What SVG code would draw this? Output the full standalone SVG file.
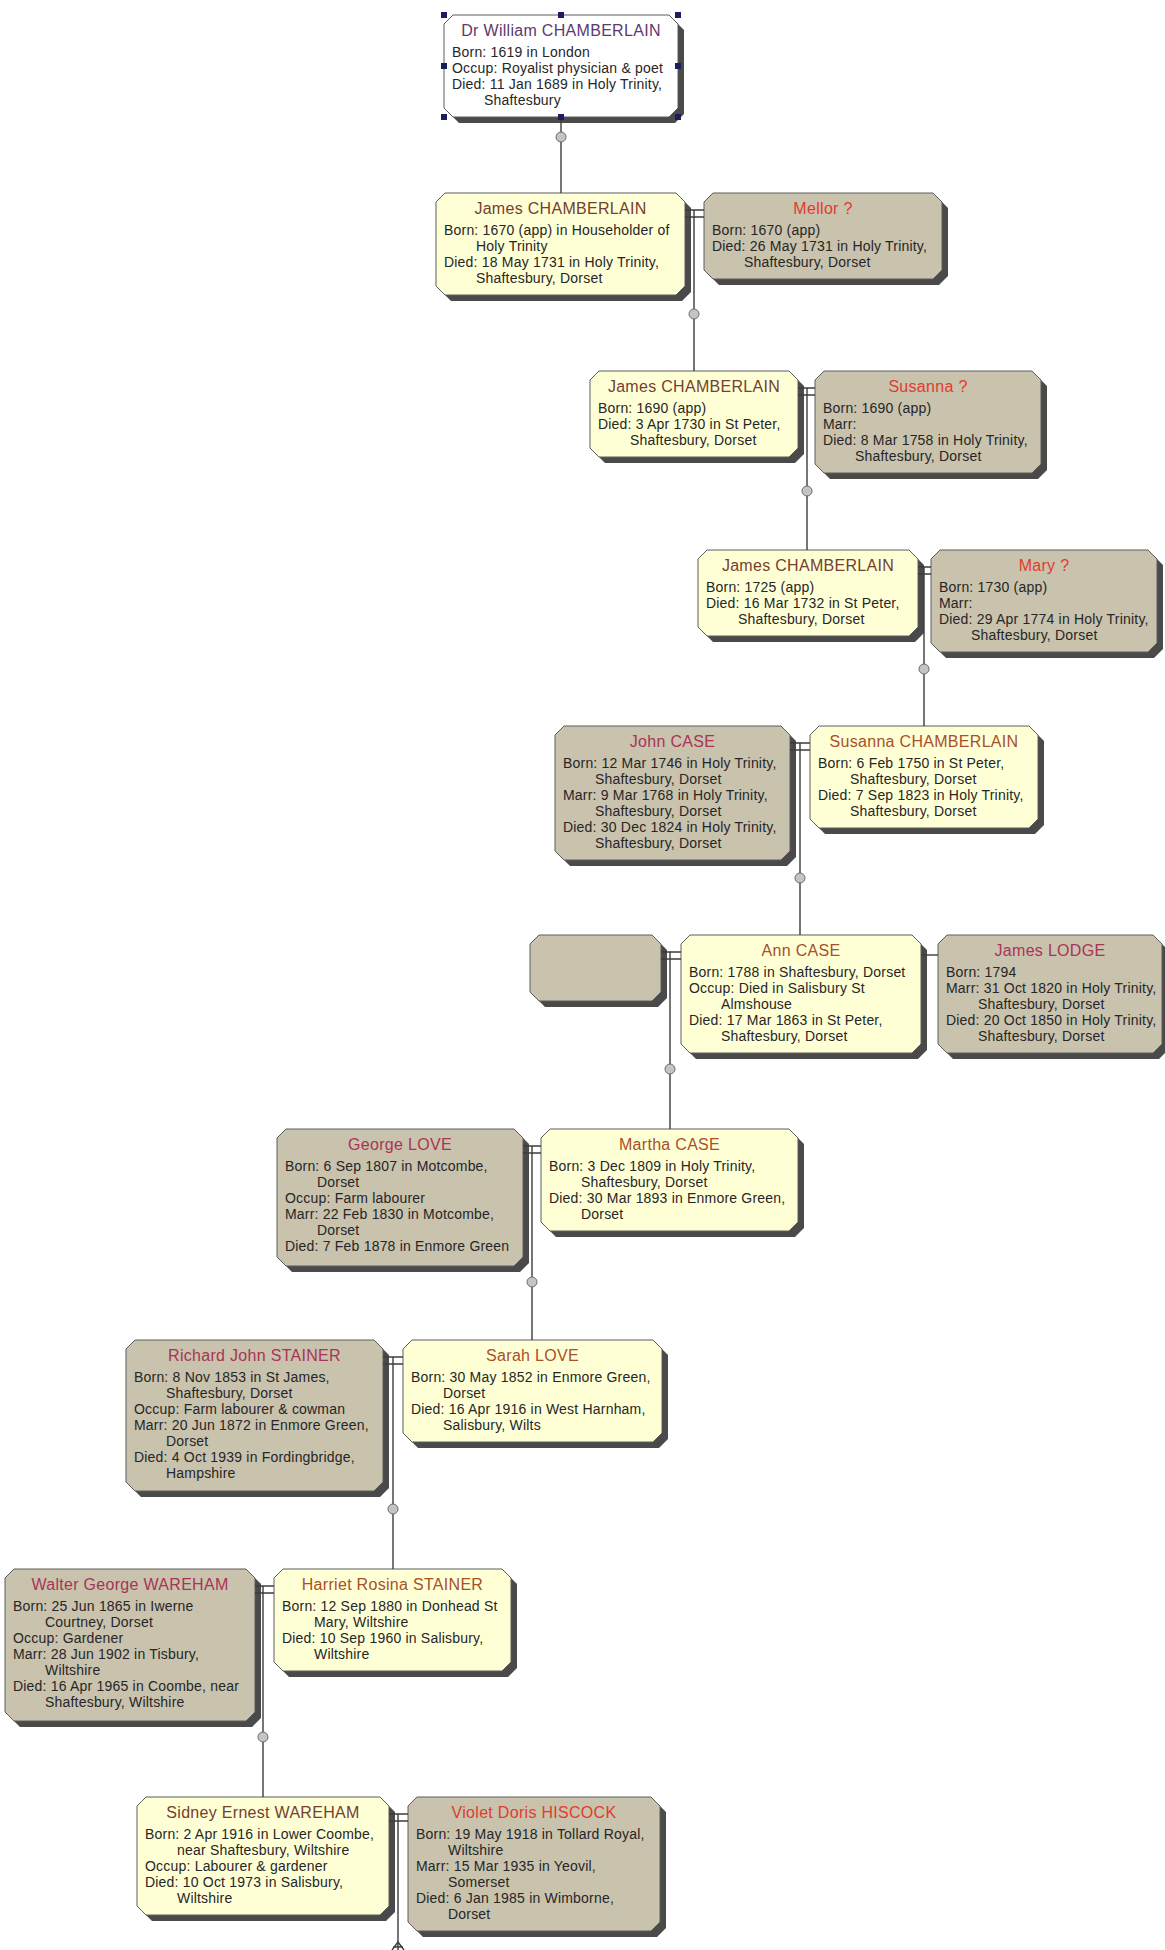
<svg xmlns="http://www.w3.org/2000/svg" width="1165" height="1950" viewBox="0 0 1165 1950">
<style>
.sh{fill:#4a4a4a}
.bx{stroke:#5c5c5c;stroke-width:1}
.w{fill:#ffffff}
.y{fill:#ffffd6}
.g{fill:#c9c2ad}
text{font-family:"Liberation Sans",Arial,sans-serif;font-size:14px;fill:#262626;letter-spacing:0.2px}
.nm{font-size:16px;text-anchor:middle;letter-spacing:0.3px}
.pu{fill:#5c3a6e}
.br{fill:#74402f}
.rd{fill:#e03c2c}
.ro{fill:#a83456}
.or{fill:#a8502a}
.ln{stroke:#3c3c3c;stroke-width:1.4;fill:none}
.kn{fill:#c4c4c4;stroke:#6e6e6e;stroke-width:1}
.hd{fill:#1c1c5e}
</style>
<rect width="1165" height="1950" fill="#ffffff"/>

<g id="n1">
<polygon class="sh" transform="translate(6,6)" points="453,15 669,15 678,24 678,108 669,117 453,117 444,108 444,24"/>
<polygon class="bx w" points="453,15 669,15 678,24 678,108 669,117 453,117 444,108 444,24"/>
<text class="nm pu" x="561" y="36">Dr William CHAMBERLAIN</text>
<text x="452" y="57">Born: 1619 in London</text>
<text x="452" y="73">Occup: Royalist physician &amp; poet</text>
<text x="452" y="89">Died: 11 Jan 1689 in Holy Trinity,</text>
<text x="484" y="105">Shaftesbury</text>
<rect class="hd" x="441" y="12" width="6" height="6"/>
<rect class="hd" x="558" y="12" width="6" height="6"/>
<rect class="hd" x="675" y="12" width="6" height="6"/>
<rect class="hd" x="441" y="63" width="6" height="6"/>
<rect class="hd" x="675" y="63" width="6" height="6"/>
<rect class="hd" x="441" y="114" width="6" height="6"/>
<rect class="hd" x="558" y="114" width="6" height="6"/>
<rect class="hd" x="675" y="114" width="6" height="6"/>
</g>

<g id="n2">
<polygon class="sh" transform="translate(6,6)" points="445,193 676,193 685,202 685,286 676,295 445,295 436,286 436,202"/>
<polygon class="bx y" points="445,193 676,193 685,202 685,286 676,295 445,295 436,286 436,202"/>
<text class="nm br" x="560.5" y="214">James CHAMBERLAIN</text>
<text x="444" y="235">Born: 1670 (app) in Householder of</text>
<text x="476" y="251">Holy Trinity</text>
<text x="444" y="267">Died: 18 May 1731 in Holy Trinity,</text>
<text x="476" y="283">Shaftesbury, Dorset</text>
</g>

<g id="n3">
<polygon class="sh" transform="translate(6,6)" points="713,193 933,193 942,202 942,270 933,279 713,279 704,270 704,202"/>
<polygon class="bx g" points="713,193 933,193 942,202 942,270 933,279 713,279 704,270 704,202"/>
<text class="nm rd" x="823" y="214">Mellor ?</text>
<text x="712" y="235">Born: 1670 (app)</text>
<text x="712" y="251">Died: 26 May 1731 in Holy Trinity,</text>
<text x="744" y="267">Shaftesbury, Dorset</text>
</g>

<g id="n4">
<polygon class="sh" transform="translate(6,6)" points="599,371 789,371 798,380 798,448 789,457 599,457 590,448 590,380"/>
<polygon class="bx y" points="599,371 789,371 798,380 798,448 789,457 599,457 590,448 590,380"/>
<text class="nm br" x="694" y="392">James CHAMBERLAIN</text>
<text x="598" y="413">Born: 1690 (app)</text>
<text x="598" y="429">Died: 3 Apr 1730 in St Peter,</text>
<text x="630" y="445">Shaftesbury, Dorset</text>
</g>

<g id="n5">
<polygon class="sh" transform="translate(6,6)" points="824,371 1032,371 1041,380 1041,464 1032,473 824,473 815,464 815,380"/>
<polygon class="bx g" points="824,371 1032,371 1041,380 1041,464 1032,473 824,473 815,464 815,380"/>
<text class="nm rd" x="928" y="392">Susanna ?</text>
<text x="823" y="413">Born: 1690 (app)</text>
<text x="823" y="429">Marr:</text>
<text x="823" y="445">Died: 8 Mar 1758 in Holy Trinity,</text>
<text x="855" y="461">Shaftesbury, Dorset</text>
</g>

<g id="n6">
<polygon class="sh" transform="translate(6,6)" points="707,550 909,550 918,559 918,627 909,636 707,636 698,627 698,559"/>
<polygon class="bx y" points="707,550 909,550 918,559 918,627 909,636 707,636 698,627 698,559"/>
<text class="nm br" x="808" y="571">James CHAMBERLAIN</text>
<text x="706" y="592">Born: 1725 (app)</text>
<text x="706" y="608">Died: 16 Mar 1732 in St Peter,</text>
<text x="738" y="624">Shaftesbury, Dorset</text>
</g>

<g id="n7">
<polygon class="sh" transform="translate(6,6)" points="940,550 1148,550 1157,559 1157,643 1148,652 940,652 931,643 931,559"/>
<polygon class="bx g" points="940,550 1148,550 1157,559 1157,643 1148,652 940,652 931,643 931,559"/>
<text class="nm rd" x="1044" y="571">Mary ?</text>
<text x="939" y="592">Born: 1730 (app)</text>
<text x="939" y="608">Marr:</text>
<text x="939" y="624">Died: 29 Apr 1774 in Holy Trinity,</text>
<text x="971" y="640">Shaftesbury, Dorset</text>
</g>

<g id="n8">
<polygon class="sh" transform="translate(6,6)" points="564,726 781,726 790,735 790,851 781,860 564,860 555,851 555,735"/>
<polygon class="bx g" points="564,726 781,726 790,735 790,851 781,860 564,860 555,851 555,735"/>
<text class="nm ro" x="672.5" y="747">John CASE</text>
<text x="563" y="768">Born: 12 Mar 1746 in Holy Trinity,</text>
<text x="595" y="784">Shaftesbury, Dorset</text>
<text x="563" y="800">Marr: 9 Mar 1768 in Holy Trinity,</text>
<text x="595" y="816">Shaftesbury, Dorset</text>
<text x="563" y="832">Died: 30 Dec 1824 in Holy Trinity,</text>
<text x="595" y="848">Shaftesbury, Dorset</text>
</g>

<g id="n9">
<polygon class="sh" transform="translate(6,6)" points="819,726 1029,726 1038,735 1038,819 1029,828 819,828 810,819 810,735"/>
<polygon class="bx y" points="819,726 1029,726 1038,735 1038,819 1029,828 819,828 810,819 810,735"/>
<text class="nm or" x="924" y="747">Susanna CHAMBERLAIN</text>
<text x="818" y="768">Born: 6 Feb 1750 in St Peter,</text>
<text x="850" y="784">Shaftesbury, Dorset</text>
<text x="818" y="800">Died: 7 Sep 1823 in Holy Trinity,</text>
<text x="850" y="816">Shaftesbury, Dorset</text>
</g>

<g id="n10">
<polygon class="sh" transform="translate(6,6)" points="539,935 652,935 661,944 661,992 652,1001 539,1001 530,992 530,944"/>
<polygon class="bx g" points="539,935 652,935 661,944 661,992 652,1001 539,1001 530,992 530,944"/>
</g>

<g id="n11">
<polygon class="sh" transform="translate(6,6)" points="690,935 912,935 921,944 921,1044 912,1053 690,1053 681,1044 681,944"/>
<polygon class="bx y" points="690,935 912,935 921,944 921,1044 912,1053 690,1053 681,1044 681,944"/>
<text class="nm or" x="801" y="956">Ann CASE</text>
<text x="689" y="977">Born: 1788 in Shaftesbury, Dorset</text>
<text x="689" y="993">Occup: Died in Salisbury St</text>
<text x="721" y="1009">Almshouse</text>
<text x="689" y="1025">Died: 17 Mar 1863 in St Peter,</text>
<text x="721" y="1041">Shaftesbury, Dorset</text>
</g>

<g id="n12">
<polygon class="sh" transform="translate(6,6)" points="947,935 1153,935 1162,944 1162,1044 1153,1053 947,1053 938,1044 938,944"/>
<polygon class="bx g" points="947,935 1153,935 1162,944 1162,1044 1153,1053 947,1053 938,1044 938,944"/>
<text class="nm ro" x="1050" y="956">James LODGE</text>
<text x="946" y="977">Born: 1794</text>
<text x="946" y="993">Marr: 31 Oct 1820 in Holy Trinity,</text>
<text x="978" y="1009">Shaftesbury, Dorset</text>
<text x="946" y="1025">Died: 20 Oct 1850 in Holy Trinity,</text>
<text x="978" y="1041">Shaftesbury, Dorset</text>
</g>

<g id="n13">
<polygon class="sh" transform="translate(6,6)" points="286,1129 514,1129 523,1138 523,1257 514,1266 286,1266 277,1257 277,1138"/>
<polygon class="bx g" points="286,1129 514,1129 523,1138 523,1257 514,1266 286,1266 277,1257 277,1138"/>
<text class="nm ro" x="400" y="1150">George LOVE</text>
<text x="285" y="1171">Born: 6 Sep 1807 in Motcombe,</text>
<text x="317" y="1187">Dorset</text>
<text x="285" y="1203">Occup: Farm labourer</text>
<text x="285" y="1219">Marr: 22 Feb 1830 in Motcombe,</text>
<text x="317" y="1235">Dorset</text>
<text x="285" y="1251">Died: 7 Feb 1878 in Enmore Green</text>
</g>

<g id="n14">
<polygon class="sh" transform="translate(6,6)" points="550,1129 789,1129 798,1138 798,1222 789,1231 550,1231 541,1222 541,1138"/>
<polygon class="bx y" points="550,1129 789,1129 798,1138 798,1222 789,1231 550,1231 541,1222 541,1138"/>
<text class="nm or" x="669.5" y="1150">Martha CASE</text>
<text x="549" y="1171">Born: 3 Dec 1809 in Holy Trinity,</text>
<text x="581" y="1187">Shaftesbury, Dorset</text>
<text x="549" y="1203">Died: 30 Mar 1893 in Enmore Green,</text>
<text x="581" y="1219">Dorset</text>
</g>

<g id="n15">
<polygon class="sh" transform="translate(6,6)" points="135,1340 374,1340 383,1349 383,1482 374,1491 135,1491 126,1482 126,1349"/>
<polygon class="bx g" points="135,1340 374,1340 383,1349 383,1482 374,1491 135,1491 126,1482 126,1349"/>
<text class="nm ro" x="254.5" y="1361">Richard John STAINER</text>
<text x="134" y="1382">Born: 8 Nov 1853 in St James,</text>
<text x="166" y="1398">Shaftesbury, Dorset</text>
<text x="134" y="1414">Occup: Farm labourer &amp; cowman</text>
<text x="134" y="1430">Marr: 20 Jun 1872 in Enmore Green,</text>
<text x="166" y="1446">Dorset</text>
<text x="134" y="1462">Died: 4 Oct 1939 in Fordingbridge,</text>
<text x="166" y="1478">Hampshire</text>
</g>

<g id="n16">
<polygon class="sh" transform="translate(6,6)" points="412,1340 653,1340 662,1349 662,1433 653,1442 412,1442 403,1433 403,1349"/>
<polygon class="bx y" points="412,1340 653,1340 662,1349 662,1433 653,1442 412,1442 403,1433 403,1349"/>
<text class="nm or" x="532.5" y="1361">Sarah LOVE</text>
<text x="411" y="1382">Born: 30 May 1852 in Enmore Green,</text>
<text x="443" y="1398">Dorset</text>
<text x="411" y="1414">Died: 16 Apr 1916 in West Harnham,</text>
<text x="443" y="1430">Salisbury, Wilts</text>
</g>

<g id="n17">
<polygon class="sh" transform="translate(6,6)" points="14,1569 246,1569 255,1578 255,1712 246,1721 14,1721 5,1712 5,1578"/>
<polygon class="bx g" points="14,1569 246,1569 255,1578 255,1712 246,1721 14,1721 5,1712 5,1578"/>
<text class="nm ro" x="130" y="1590">Walter George WAREHAM</text>
<text x="13" y="1611">Born: 25 Jun 1865 in Iwerne</text>
<text x="45" y="1627">Courtney, Dorset</text>
<text x="13" y="1643">Occup: Gardener</text>
<text x="13" y="1659">Marr: 28 Jun 1902 in Tisbury,</text>
<text x="45" y="1675">Wiltshire</text>
<text x="13" y="1691">Died: 16 Apr 1965 in Coombe, near</text>
<text x="45" y="1707">Shaftesbury, Wiltshire</text>
</g>

<g id="n18">
<polygon class="sh" transform="translate(6,6)" points="283,1569 502,1569 511,1578 511,1662 502,1671 283,1671 274,1662 274,1578"/>
<polygon class="bx y" points="283,1569 502,1569 511,1578 511,1662 502,1671 283,1671 274,1662 274,1578"/>
<text class="nm or" x="392.5" y="1590">Harriet Rosina STAINER</text>
<text x="282" y="1611">Born: 12 Sep 1880 in Donhead St</text>
<text x="314" y="1627">Mary, Wiltshire</text>
<text x="282" y="1643">Died: 10 Sep 1960 in Salisbury,</text>
<text x="314" y="1659">Wiltshire</text>
</g>

<g id="n19">
<polygon class="sh" transform="translate(6,6)" points="146,1797 380,1797 389,1806 389,1906 380,1915 146,1915 137,1906 137,1806"/>
<polygon class="bx y" points="146,1797 380,1797 389,1806 389,1906 380,1915 146,1915 137,1906 137,1806"/>
<text class="nm br" x="263" y="1818">Sidney Ernest WAREHAM</text>
<text x="145" y="1839">Born: 2 Apr 1916 in Lower Coombe,</text>
<text x="177" y="1855">near Shaftesbury, Wiltshire</text>
<text x="145" y="1871">Occup: Labourer &amp; gardener</text>
<text x="145" y="1887">Died: 10 Oct 1973 in Salisbury,</text>
<text x="177" y="1903">Wiltshire</text>
</g>

<g id="n20">
<polygon class="sh" transform="translate(6,6)" points="417,1797 651,1797 660,1806 660,1922 651,1931 417,1931 408,1922 408,1806"/>
<polygon class="bx g" points="417,1797 651,1797 660,1806 660,1922 651,1931 417,1931 408,1922 408,1806"/>
<text class="nm rd" x="534" y="1818">Violet Doris HISCOCK</text>
<text x="416" y="1839">Born: 19 May 1918 in Tollard Royal,</text>
<text x="448" y="1855">Wiltshire</text>
<text x="416" y="1871">Marr: 15 Mar 1935 in Yeovil,</text>
<text x="448" y="1887">Somerset</text>
<text x="416" y="1903">Died: 6 Jan 1985 in Wimborne,</text>
<text x="448" y="1919">Dorset</text>
</g>

<g id="connectors">
<path class="ln" d="M561,120 V193"/>
<path class="ln" d="M685,210 H704 M685,217 H704 M694,210 V371"/>
<path class="ln" d="M798,388 H815 M798,395 H815 M807,388 V550"/>
<path class="ln" d="M918,567 H931 M918,574 H931 M924,567 V726"/>
<path class="ln" d="M790,743 H810 M790,750 H810 M800,743 V935"/>
<path class="ln" d="M661,952 H681 M661,959 H681 M670,952 V1129"/>
<path class="ln" d="M921,955 H938"/>
<path class="ln" d="M523,1146 H541 M523,1153 H541 M532,1146 V1340"/>
<path class="ln" d="M383,1357 H403 M383,1364 H403 M393,1357 V1569"/>
<path class="ln" d="M255,1586 H274 M255,1593 H274 M263,1586 V1797"/>
<path class="ln" d="M389,1814 H408 M389,1821 H408 M398,1814 V1950"/>
<circle class="kn" cx="561" cy="137" r="5"/>
<circle class="kn" cx="694" cy="314" r="5"/>
<circle class="kn" cx="807" cy="491" r="5"/>
<circle class="kn" cx="924" cy="669" r="5"/>
<circle class="kn" cx="800" cy="878" r="5"/>
<circle class="kn" cx="670" cy="1069" r="5"/>
<circle class="kn" cx="532" cy="1282" r="5"/>
<circle class="kn" cx="393" cy="1509" r="5"/>
<circle class="kn" cx="263" cy="1737" r="5"/>
<path class="ln" d="M392,1950 L398,1942 L404,1950 M393,1947 H403"/>
</g>
</svg>
